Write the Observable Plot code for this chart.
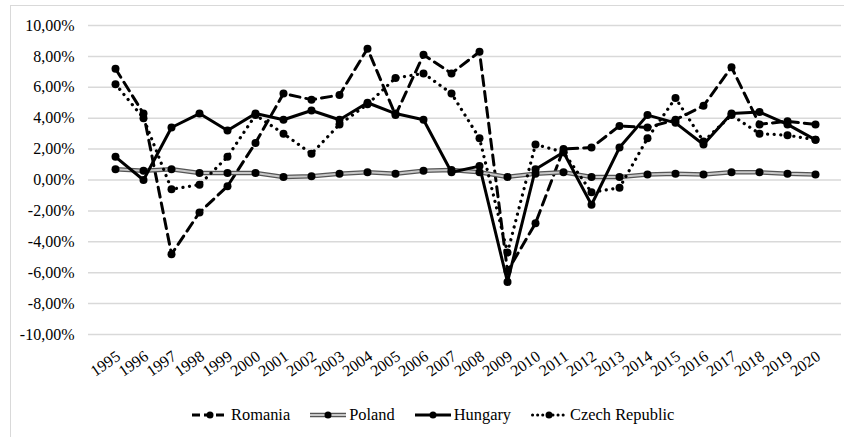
<!DOCTYPE html>
<html><head><meta charset="utf-8">
<script src="https://cdn.jsdelivr.net/npm/d3@7"></script>
<script src="https://cdn.jsdelivr.net/npm/@observablehq/plot@0.6"></script>
<style>
body{margin:0;background:#fff;font-family:"Liberation Serif","Times New Roman",serif;}
#wrap{position:relative;width:844px;height:437px;overflow:hidden;background:#fff}
#frame{position:absolute;left:10px;top:5px;width:850px;height:450px;border:1px solid #d9d9d9;box-sizing:border-box}
#chart{position:absolute;left:0;top:0}
#legend{position:absolute;left:192px;top:405px;display:flex;align-items:center;font-size:16.4px;color:#000;line-height:20px}
.item{display:flex;align-items:center;margin-right:20px}
.item svg{margin-right:3px}
</style>
</head><body>
<div id="wrap"><div id="frame"></div><div id="chart"></div><div id="legend"></div></div>
<script>
const years = ["1995","1996","1997","1998","1999","2000","2001","2002","2003","2004","2005","2006","2007","2008","2009","2010","2011","2012","2013","2014","2015","2016","2017","2018","2019","2020"];
const seriesNames = ["Romania","Poland","Hungary","Czech Republic"];
const romania = [7.2,4.3,-4.8,-2.1,-0.4,2.4,5.6,5.2,5.5,8.5,4.2,8.1,6.9,8.3,-5.9,-2.8,2.0,2.1,3.5,3.4,3.9,4.8,7.3,3.6,3.8,3.6];
const poland  = [0.7,0.6,0.7,0.45,0.45,0.45,0.2,0.25,0.4,0.5,0.4,0.6,0.65,0.5,0.2,0.4,0.5,0.2,0.2,0.35,0.4,0.35,0.5,0.5,0.4,0.35];
const hungary = [1.5,0.0,3.4,4.3,3.2,4.3,3.9,4.5,3.9,5.0,4.3,3.9,0.5,0.9,-6.6,0.7,1.8,-1.6,2.1,4.2,3.7,2.3,4.3,4.4,3.6,2.6];
const czech   = [6.2,4.0,-0.6,-0.3,1.5,4.2,3.0,1.7,3.6,4.9,6.6,6.9,5.6,2.7,-4.7,2.3,1.8,-0.8,-0.5,2.7,5.3,2.5,4.2,3.0,2.9,2.6];
const yTicks = [-10,-8,-6,-4,-2,0,2,4,6,8,10];

const table = [];
[romania, poland, hungary, czech].forEach((arr, i) => arr.forEach((v, j) => table.push({year: years[j], value: v, series: seriesNames[i]})));
const of = s => table.filter(d => d.series === s);

const fmt = d => d.toFixed(2).replace(".", ",") + "%";
const FONT = '"Liberation Serif","Times New Roman",serif';

const chart = Plot.plot({
  width: 844, height: 390,
  marginLeft: 88, marginRight: 3, marginTop: 25, marginBottom: 56,
  style: {fontFamily: FONT, fontSize: "16px", background: "transparent", color: "#000"},
  x: {type: "point", domain: years, padding: 0.5},
  y: {domain: [-10, 10]},
  marks: [
    Plot.gridY(yTicks, {stroke: "#d9d9d9", strokeOpacity: 1, strokeWidth: 1.5}),
    Plot.axisY(yTicks, {tickSize: 0, tickPadding: 14, tickFormat: fmt, fontSize: 16, label: null}),
    Plot.axisX({tickSize: 0, tickRotate: -35, textAnchor: "end", fontSize: 16, label: null, tickPadding: 20, dx: 3}),
    Plot.line(of("Romania"), {x: "year", y: "value", stroke: "#000", strokeWidth: 3, strokeDasharray: "10,6"}),
    Plot.dot(of("Romania"), {x: "year", y: "value", r: 4, fill: "#000"}),
    Plot.line(of("Poland"), {x: "year", y: "value", stroke: "#555", strokeWidth: 4.5}),
    Plot.line(of("Poland"), {x: "year", y: "value", stroke: "#c8c8c8", strokeWidth: 2}),
    Plot.dot(of("Poland"), {x: "year", y: "value", r: 4, fill: "#000"}),
    Plot.line(of("Hungary"), {x: "year", y: "value", stroke: "#000", strokeWidth: 3}),
    Plot.dot(of("Hungary"), {x: "year", y: "value", r: 4, fill: "#000"}),
    Plot.line(of("Czech Republic"), {x: "year", y: "value", stroke: "#000", strokeWidth: 3.2, strokeDasharray: "0.1,6.5", strokeLinecap: "round"}),
    Plot.dot(of("Czech Republic"), {x: "year", y: "value", r: 4, fill: "#000"})
  ]
});
document.getElementById("chart").appendChild(chart);

const samples = {
  "Romania": `<line x1="0" y1="7" x2="36" y2="7" stroke="#000" stroke-width="3" stroke-dasharray="8,4"/>`,
  "Poland": `<line x1="0" y1="7" x2="36" y2="7" stroke="#555" stroke-width="4.5"/><line x1="0" y1="7" x2="36" y2="7" stroke="#c8c8c8" stroke-width="2"/>`,
  "Hungary": `<line x1="0" y1="7" x2="36" y2="7" stroke="#000" stroke-width="3"/>`,
  "Czech Republic": `<line x1="1.5" y1="7" x2="35" y2="7" stroke="#000" stroke-width="3" stroke-dasharray="0.1,5" stroke-linecap="round"/>`
};
const lg = document.getElementById("legend");
seriesNames.forEach(s => {
  const it = document.createElement("div");
  it.className = "item";
  it.innerHTML = `<svg width="36" height="14">${samples[s]}<circle cx="18" cy="7" r="3.5" fill="#000"/></svg><span>${s}</span>`;
  lg.appendChild(it);
});
</script>
</body></html>
